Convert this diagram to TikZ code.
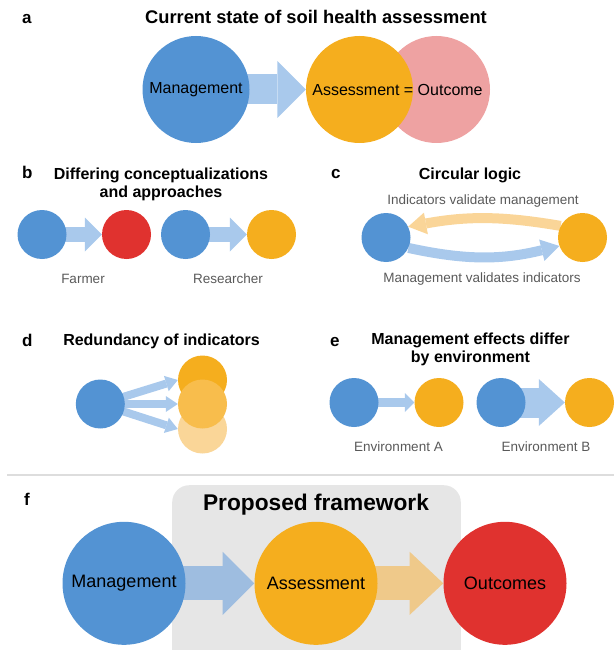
\documentclass[tikz,border=0pt]{standalone}
\usepackage{fontspec}
\setmainfont{Liberation Sans}
\usetikzlibrary{positioning, calc, arrows.meta, backgrounds}

\begin{document}
\begin{tikzpicture}[x=1pt, y=-1pt, inner sep=0pt,
        blob/.style={circle, minimum size=#1},
        panel/.style={font=\fontsize{17}{20}\selectfont\bfseries, anchor=base west},
        heading/.style={font=\fontsize{16}{18}\selectfont\bfseries, align=center},
        caption/.style={font=\fontsize{13.5}{16}\selectfont, text=textgray, anchor=base},
        inside/.style={font=\fontsize{#1}{#1}\selectfont},
        fat/.style n args={4}{line width=#1, draw=#2, -{Triangle[width=#3, length=#4, line width=0pt]}}]
        % Define colors
        \definecolor{manblue}{RGB}{83,147,211}
        \definecolor{assorange}{RGB}{245,174,30}
        \definecolor{outred}{RGB}{224,50,47}
        \definecolor{outpink}{RGB}{238,162,162}
        \definecolor{midorange}{RGB}{248,189,76}
        \definecolor{paleorange}{RGB}{250,214,152}
        \definecolor{arrowblue}{RGB}{169,201,236}
        \definecolor{arroworange}{RGB}{250,213,152}
        \definecolor{farrowblue}{RGB}{158,189,224}
        \definecolor{farroworange}{RGB}{239,201,138}
        \definecolor{textgray}{RGB}{89,89,89}
        \definecolor{boxgray}{RGB}{230,230,230}
        \definecolor{rulegray}{RGB}{221,221,221}

        \useasboundingbox (0,0) rectangle (614,650);

        % Panel a
        \node[panel] (la) at (22,24) {a};
        \node[heading, font=\fontsize{18.3}{20}\selectfont\bfseries, anchor=base] (ta) at (316,24) {Current state of soil health assessment};
        \node[blob=107pt, fill=manblue, inside=16] (aman) at (196,89.5) {Management};
        \node[blob=107pt, fill=outpink] (aout) at (436.5,89.5) {};
        \node[blob=107pt, fill=assorange] (aass) at (359.5,89.5) {};
        \node[inside=16] (atext) at (397.5,89.5) {Assessment = Outcome};

        % Panel b
        \node[panel] (lb) at (22,178) {b};
        \node[heading, anchor=north] (tb) at (161,167.3) {Differing conceptualizations\\and approaches};
        \node[blob=49pt, fill=manblue] (bman1) at (42,234.5) {};
        \node[blob=49pt, fill=outred] (bout) at (126.5,234.5) {};
        \node[blob=49pt, fill=manblue] (bman2) at (185.5,234.5) {};
        \node[blob=49pt, fill=assorange] (bass) at (271.5,234.5) {};
        \node[caption] (farmer) at (83,283) {Farmer};
        \node[caption] (researcher) at (228,283) {Researcher};

        % Panel c
        \node[panel] (lc) at (331,178) {c};
        \node[heading, anchor=base] (tc) at (470,179) {Circular logic};
        \node[blob=49pt, fill=manblue] (cman) at (386,237.5) {};
        \node[blob=49pt, fill=assorange] (cind) at (582.5,237.5) {};
        \node[caption] (ctop) at (483,204) {Indicators validate management};
        \node[caption] (cbot) at (482,282) {Management validates indicators};

        % Panel d
        \node[panel] (ld) at (22,346) {d};
        \node[heading, anchor=base] (td) at (161.5,345) {Redundancy of indicators};
        \node[blob=49pt, fill=manblue] (dman) at (100.3,404) {};
        \node[blob=49pt, fill=assorange] (dind1) at (202.5,380) {};
        \node[blob=49pt, fill=paleorange] (dind3) at (202.5,429) {};
        \node[blob=49pt, fill=midorange] (dind2) at (202.5,404) {};

        % Panel e
        \node[panel] (le) at (330,346) {e};
        \node[heading, anchor=north] (te) at (470.5,332.3) {Management effects differ\\by environment};
        \node[blob=49pt, fill=manblue] (eman1) at (354,402.5) {};
        \node[blob=49pt, fill=assorange] (eass1) at (439,402.5) {};
        \node[blob=49pt, fill=manblue] (eman2) at (501,402.5) {};
        \node[blob=49pt, fill=assorange] (eass2) at (589.5,402.5) {};
        \node[caption] (envA) at (398.5,451.7) {Environment A};
        \node[caption] (envB) at (546,451.7) {Environment B};

        % Rule
        \draw[rulegray, line width=2.5pt] (7,475) -- (614,475);

        % Panel f
        \node[panel] (lf) at (24,505) {f};
        \node[heading, font=\fontsize{22.7}{26}\selectfont\bfseries, anchor=base] (tf) at (316,510) {Proposed framework};
        \node[blob=123pt, fill=manblue, inside=18] (fman) at (124,583.3) {Management};
        \node[blob=123pt, fill=assorange, inside=18] (fass) at (316,583.3) {Assessment};
        \node[blob=123pt, fill=outred, inside=18] (fout) at (505,583.3) {Outcomes};

        % Edges
        \begin{scope}[on background layer]
            \clip (0,0) rectangle (614,650);
            \node[fill=boxgray, rounded corners=17pt, anchor=north west, minimum width=288.6pt, minimum height=200pt] (frame) at (172,485) {};
            \draw[fat={30pt}{arrowblue}{57pt}{28.5pt}] (aman.center) -- (aass);
            \draw[fat={15pt}{arrowblue}{34pt}{17pt}] (bman1.center) -- (bout);
            \draw[fat={15pt}{arrowblue}{34pt}{17pt}] (bman2.center) -- (bass);
            \draw[fat={10pt}{arroworange}{22pt}{18pt}] (cind.152) to[bend right=10] (cman.26);
            \draw[fat={10pt}{arrowblue}{22pt}{18pt}] (cman.-25) to[bend right=13] (cind.200);
            \foreach \i in {1,2,3} {
                \draw[fat={8pt}{arrowblue}{16pt}{12pt}] (dman.center) -- (dind\i.west);
            }
            \draw[fat={9pt}{arrowblue}{19pt}{9.5pt}] (eman1.center) -- (eass1);
            \draw[fat={30pt}{arrowblue}{47pt}{26pt}] (eman2.center) -- (eass2);
            \draw[fat={34pt}{farrowblue}{63pt}{31.6pt}] (fman.center) -- (fass);
            \draw[fat={34pt}{farroworange}{63pt}{33.6pt}] (fass.center) -- (fout);
        \end{scope}
    \end{tikzpicture}
\end{document}
